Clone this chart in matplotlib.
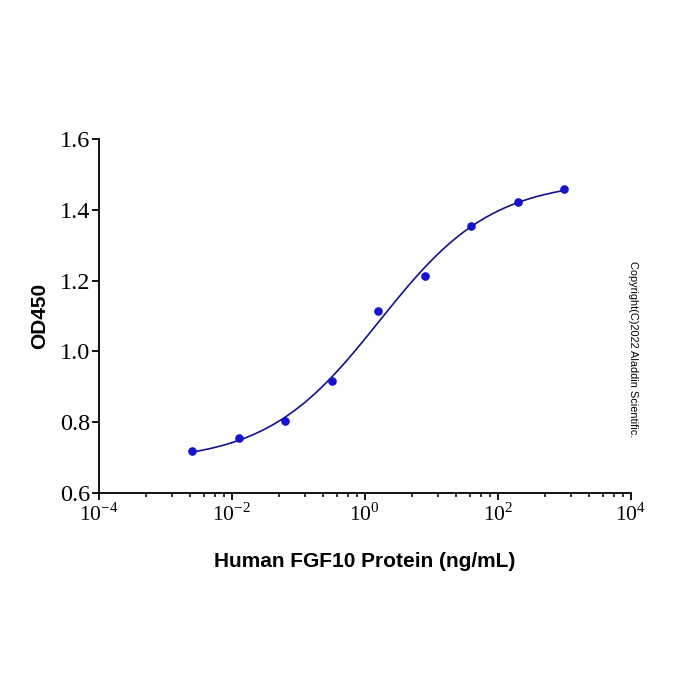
# -*- coding: utf-8 -*-
"""Кривая доза-ответ: Human FGF10 Protein, OD450 (ELISA), 4PL-аппроксимация."""
import matplotlib
matplotlib.use("Agg")
import matplotlib.pyplot as plt
from matplotlib.ticker import FixedLocator, NullFormatter
import numpy as np

# данные (разведение 1:5 от 1000 нг/мл)
conc = [0.00256, 0.0128, 0.064, 0.32, 1.6, 8.0, 40.0, 200.0, 1000.0]
od450 = [0.719, 0.755, 0.803, 0.916, 1.114, 1.213, 1.354, 1.422, 1.458]

x_major = [1e-4, 1e-2, 1e0, 1e2, 1e4]
x_labels = ["-4", "-2", "0", "2", "4"]
y_ticks = [0.6, 0.8, 1.0, 1.2, 1.4, 1.6]

COLOR_POINT = "#1414cc"
COLOR_CURVE = "#12128c"
SERIF = "Liberation Serif"
SANS = "Liberation Sans"


def fit_4pl(x, y):
    """Подбор 4PL: перебор (hill, ec50), нижнее/верхнее плато — линейным МНК."""
    x = np.asarray(x)
    y = np.asarray(y)
    best = None
    for b in np.linspace(0.3, 1.5, 121):
        for lc in np.linspace(-2, 2, 201):
            f = 1.0 / (1.0 + (x / 10 ** lc) ** b)
            m = np.column_stack([f, 1 - f])
            coef, *_ = np.linalg.lstsq(m, y, rcond=None)
            err = np.sum((m @ coef - y) ** 2)
            if best is None or err < best[0]:
                best = (err, b, 10 ** lc, coef[0], coef[1])
    return best[1:]


hill, ec50, bottom, top = fit_4pl(conc, od450)
xs = np.logspace(np.log10(conc[0]), np.log10(conc[-1]), 400)
ys = top + (bottom - top) / (1 + (xs / ec50) ** hill)

fig = plt.figure(figsize=(7, 7), dpi=100, facecolor="white")
ax = fig.add_axes([0.141, 0.2957, 0.760, 0.5057])

ax.plot(xs, ys, color=COLOR_CURVE, linewidth=1.2, zorder=2)
ax.plot(conc, od450, "o", color=COLOR_POINT, markersize=5.2, zorder=3)

ax.set_xscale("log")
ax.set_xlim(1e-4, 1e4)
ax.set_ylim(0.6, 1.6)

# малые деления как в оригинале: 6 штук внутри каждого интервала в 2 декады
minor = []
for a in x_major[:-1]:
    for j in range(1, 7):
        minor.append(a * (1 + 9 * j / 7) ** 2)
ax.xaxis.set_major_locator(FixedLocator(x_major))
ax.xaxis.set_minor_locator(FixedLocator(minor))
ax.xaxis.set_minor_formatter(NullFormatter())
ax.set_xticklabels([r"10$^{\mathregular{%s}}$" % s for s in x_labels])

ax.set_yticks(y_ticks)
ax.set_yticklabels([f"{v:.1f}" for v in y_ticks])

for spine in ("top", "right"):
    ax.spines[spine].set_visible(False)
for spine in ("left", "bottom"):
    ax.spines[spine].set_linewidth(1.3)

ax.tick_params(axis="both", which="major", direction="out", length=5, width=1.3, pad=2)
ax.tick_params(axis="x", which="major", labelsize=15.5)
ax.tick_params(axis="y", which="major", labelsize=17.5, pad=1)
ax.tick_params(axis="x", which="minor", direction="out", length=3, width=1.1)
for lab in ax.get_xticklabels() + ax.get_yticklabels():
    lab.set_fontfamily(SERIF)

ax.set_xlabel("Human FGF10 Protein (ng/mL)", fontfamily=SANS, fontweight="bold",
              fontsize=15, labelpad=19)
ax.set_ylabel("OD450", fontfamily=SANS, fontweight="bold", fontsize=15, labelpad=8)

fig.text(0.905, 0.5014, "Copyright(C)2022 Aladdin Scientific.", rotation=270,
         fontfamily=SANS, fontsize=7.9, ha="center", va="center")

fig.savefig("out.png", dpi=100, facecolor="white")
plt.close(fig)
